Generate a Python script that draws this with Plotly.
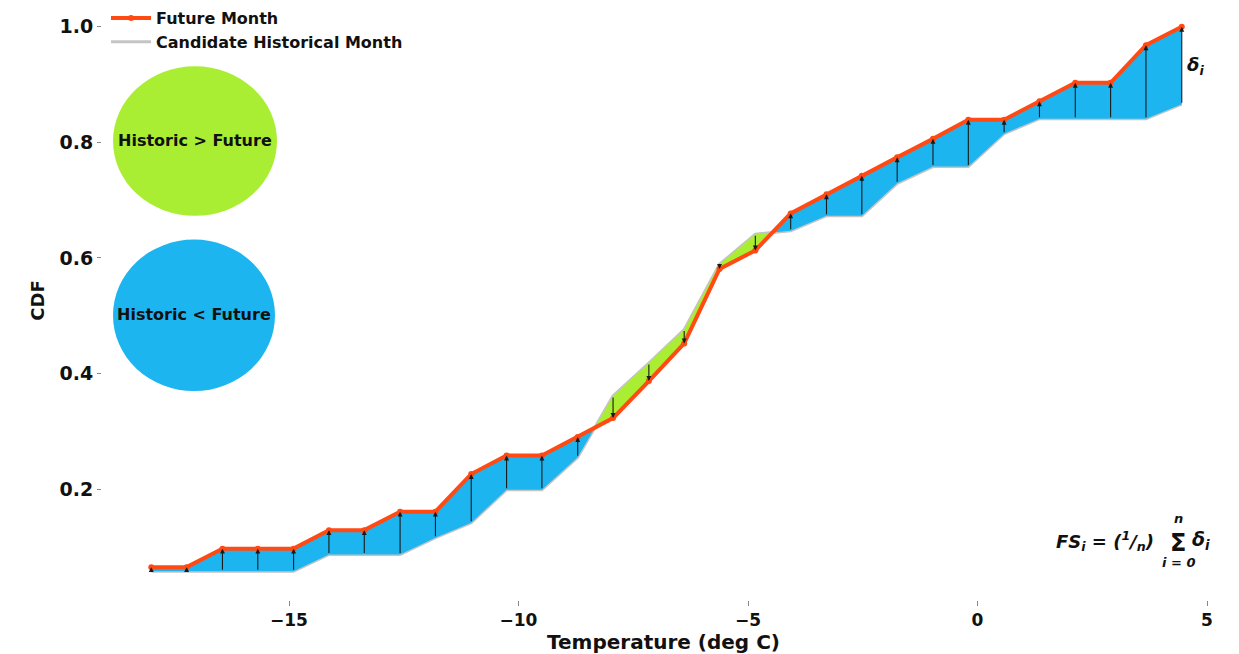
import plotly.graph_objects as go

# ---------------- data ----------------
temperature = [-18.00, -17.23, -16.45, -15.68, -14.90, -14.13, -13.36, -12.58, -11.81, -11.03,
               -10.26, -9.49, -8.71, -7.94, -7.16, -6.39, -5.62, -4.84, -4.07, -3.29,
               -2.52, -1.75, -0.97, -0.20, 0.58, 1.35, 2.13, 2.90, 3.67, 4.45]
future_cdf = [0.065, 0.065, 0.097, 0.097, 0.097, 0.129, 0.129, 0.161, 0.161, 0.226,
              0.258, 0.258, 0.290, 0.323, 0.387, 0.452, 0.581, 0.613, 0.677, 0.710,
              0.742, 0.774, 0.806, 0.839, 0.839, 0.871, 0.903, 0.903, 0.968, 1.000]
historic_cdf = [0.058, 0.058, 0.058, 0.058, 0.058, 0.087, 0.087, 0.087, 0.116, 0.142,
                0.199, 0.199, 0.255, 0.361, 0.418, 0.476, 0.589, 0.641, 0.647, 0.673,
                0.673, 0.729, 0.758, 0.758, 0.815, 0.841, 0.841, 0.841, 0.841, 0.866]
x_tick_vals = [-15, -10, -5, 0, 5]
x_tick_text = ["\u221215", "\u221210", "\u22125", "0", "5"]
y_tick_vals = [0.2, 0.4, 0.6, 0.8, 1.0]
y_tick_text = ["0.2", "0.4", "0.6", "0.8", "1.0"]

ORANGE = "#FF4A14"
GRAY = "#C4C4C4"
BLUE = "#1DB5F0"
GREEN = "#A9EE32"
INK = "#111111"
FONT = "DejaVu Sans"

# ---------------- layout geometry (pixels) ----------------
W, H = 1239, 654
L, R, T, B = 102, 1225, 1, 606


def px(xp):
    return (xp - L) / (R - L)


def py(yp):
    return (B - yp) / (B - T)


# ---------------- fill polygons between the curves ----------------
pts = [(temperature[0], future_cdf[0], historic_cdf[0])]
for i in range(len(temperature) - 1):
    d0 = future_cdf[i] - historic_cdf[i]
    d1 = future_cdf[i + 1] - historic_cdf[i + 1]
    if d0 * d1 < 0:
        t = d0 / (d0 - d1)
        xc = temperature[i] + t * (temperature[i + 1] - temperature[i])
        yc = future_cdf[i] + t * (future_cdf[i + 1] - future_cdf[i])
        pts.append((xc, yc, yc))
    pts.append((temperature[i + 1], future_cdf[i + 1], historic_cdf[i + 1]))

runs = []
cur = []
cur_sign = 0
for p in pts:
    dd = p[1] - p[2]
    if abs(dd) < 1e-12:
        cur.append(p)
        if len(cur) > 1:
            runs.append((cur_sign, cur))
        cur = [p]
        cur_sign = 0
    else:
        s = 1 if dd > 0 else -1
        if cur_sign != 0 and s != cur_sign:
            runs.append((cur_sign, cur))
            cur = [cur[-1]]
        cur_sign = s
        cur.append(p)
if len(cur) > 1:
    runs.append((cur_sign, cur))

poly = {1: ([], []), -1: ([], [])}
for s, run in runs:
    if s == 0:
        continue
    xs = [p[0] for p in run] + [p[0] for p in reversed(run)]
    ys = [p[1] for p in run] + [p[2] for p in reversed(run)]
    px_list, py_list = poly[s]
    if px_list:
        px_list.append(None)
        py_list.append(None)
    px_list.extend(xs + [xs[0]])
    py_list.extend(ys + [ys[0]])

fig = go.Figure()

fig.add_trace(go.Scatter(
    x=temperature, y=historic_cdf, mode="lines",
    line=dict(color=GRAY, width=3), name="Candidate Historical Month",
    legendrank=2,
))
fig.add_trace(go.Scatter(
    x=poly[1][0], y=poly[1][1], mode="lines", fill="toself",
    fillcolor=BLUE, line=dict(width=0, color=BLUE), showlegend=False, hoverinfo="skip",
))
fig.add_trace(go.Scatter(
    x=poly[-1][0], y=poly[-1][1], mode="lines", fill="toself",
    fillcolor=GREEN, line=dict(width=0, color=GREEN), showlegend=False, hoverinfo="skip",
))
fig.add_trace(go.Scatter(
    x=temperature, y=future_cdf, mode="lines+markers",
    line=dict(color=ORANGE, width=4), marker=dict(color=ORANGE, size=6),
    name="Future Month", legendrank=1,
))

annotations = []
for xv, fv, hv in zip(temperature, future_cdf, historic_cdf):
    annotations.append(dict(
        x=xv, y=fv, ax=xv, ay=hv, xref="x", yref="y", axref="x", ayref="y",
        text="", showarrow=True, arrowhead=2, arrowsize=0.9, arrowwidth=1.1,
        arrowcolor="#1a1a1a", standoff=0, startstandoff=0,
    ))


def label(xp, yp, text, size, xanchor="center", yanchor="middle"):
    return dict(x=px(xp), y=py(yp), xref="paper", yref="paper", showarrow=False,
                xanchor=xanchor, yanchor=yanchor, text=text,
                font=dict(family=FONT, size=size, color=INK))


# circle labels
shapes = [
    dict(type="circle", xref="paper", yref="paper", x0=px(113), x1=px(277), y0=py(218), y1=py(67),
         fillcolor=GREEN, line=dict(width=0), layer="below"),
    dict(type="circle", xref="paper", yref="paper", x0=px(113), x1=px(275), y0=py(395), y1=py(242),
         fillcolor=BLUE, line=dict(width=0), layer="below"),
]
annotations.append(label(195, 142, "<b>Historic &gt; Future</b>", 16))
annotations.append(label(194, 318, "<b>Historic &lt; Future</b>", 16))

# delta label
annotations.append(label(1185, 67, "<b><i>δ<sub>i</sub></i></b>", 18, xanchor="left"))

# formula
annotations.append(label(1156, 546, "<b><i>FS<sub>i</sub> = (<sup>1</sup>/<sub>n</sub>)</i></b>", 18,
                         xanchor="right"))
annotations.append(label(1178, 548, "<b>Σ</b>", 24))
annotations.append(label(1178, 524, "<b><i>n</i></b>", 13))
annotations.append(label(1178, 568, "<b><i>i = 0</i></b>", 13))
annotations.append(label(1190, 546, "<b><i>δ<sub>i</sub></i></b>", 19, xanchor="left"))

fig.update_layout(
    width=W, height=H,
    margin=dict(l=L, r=W - R, t=T, b=H - B, pad=0),
    paper_bgcolor="white", plot_bgcolor="white",
    shapes=shapes, annotations=annotations,
    legend=dict(x=px(106), y=1.0, xanchor="left", yanchor="top",
                bgcolor="rgba(0,0,0,0)", font=dict(family=FONT, size=16, color=INK, weight="bold"),
                tracegroupgap=0, itemwidth=40),
    font=dict(family=FONT),
)
fig.update_xaxes(
    range=[(L - 977.5) / 45.9, (R - 977.5) / 45.9], showgrid=False, zeroline=False, showline=False,
    tickmode="array", tickvals=x_tick_vals, ticktext=x_tick_text,
    ticks="outside", ticklen=5, tickcolor="#888888",
    tickfont=dict(family=FONT, size=17, color=INK, weight="bold"),
    title=dict(text="Temperature (deg C)", standoff=9,
               font=dict(family=FONT, size=20, color=INK, weight="bold")),
)
fig.update_yaxes(
    range=[(610.75 - B) / 583.75, (610.75 - T) / 583.75], showgrid=False, zeroline=False, showline=False,
    tickmode="array", tickvals=y_tick_vals, ticktext=y_tick_text,
    ticks="outside", ticklen=4, tickcolor="#888888",
    tickfont=dict(family=FONT, size=19, color=INK, weight="bold"),
    title=dict(text="CDF", standoff=10,
               font=dict(family=FONT, size=18, color=INK, weight="bold")),
)

fig.write_html("out.html", config={"displayModeBar": False},
               post_script="document.body.style.margin='0px';")
